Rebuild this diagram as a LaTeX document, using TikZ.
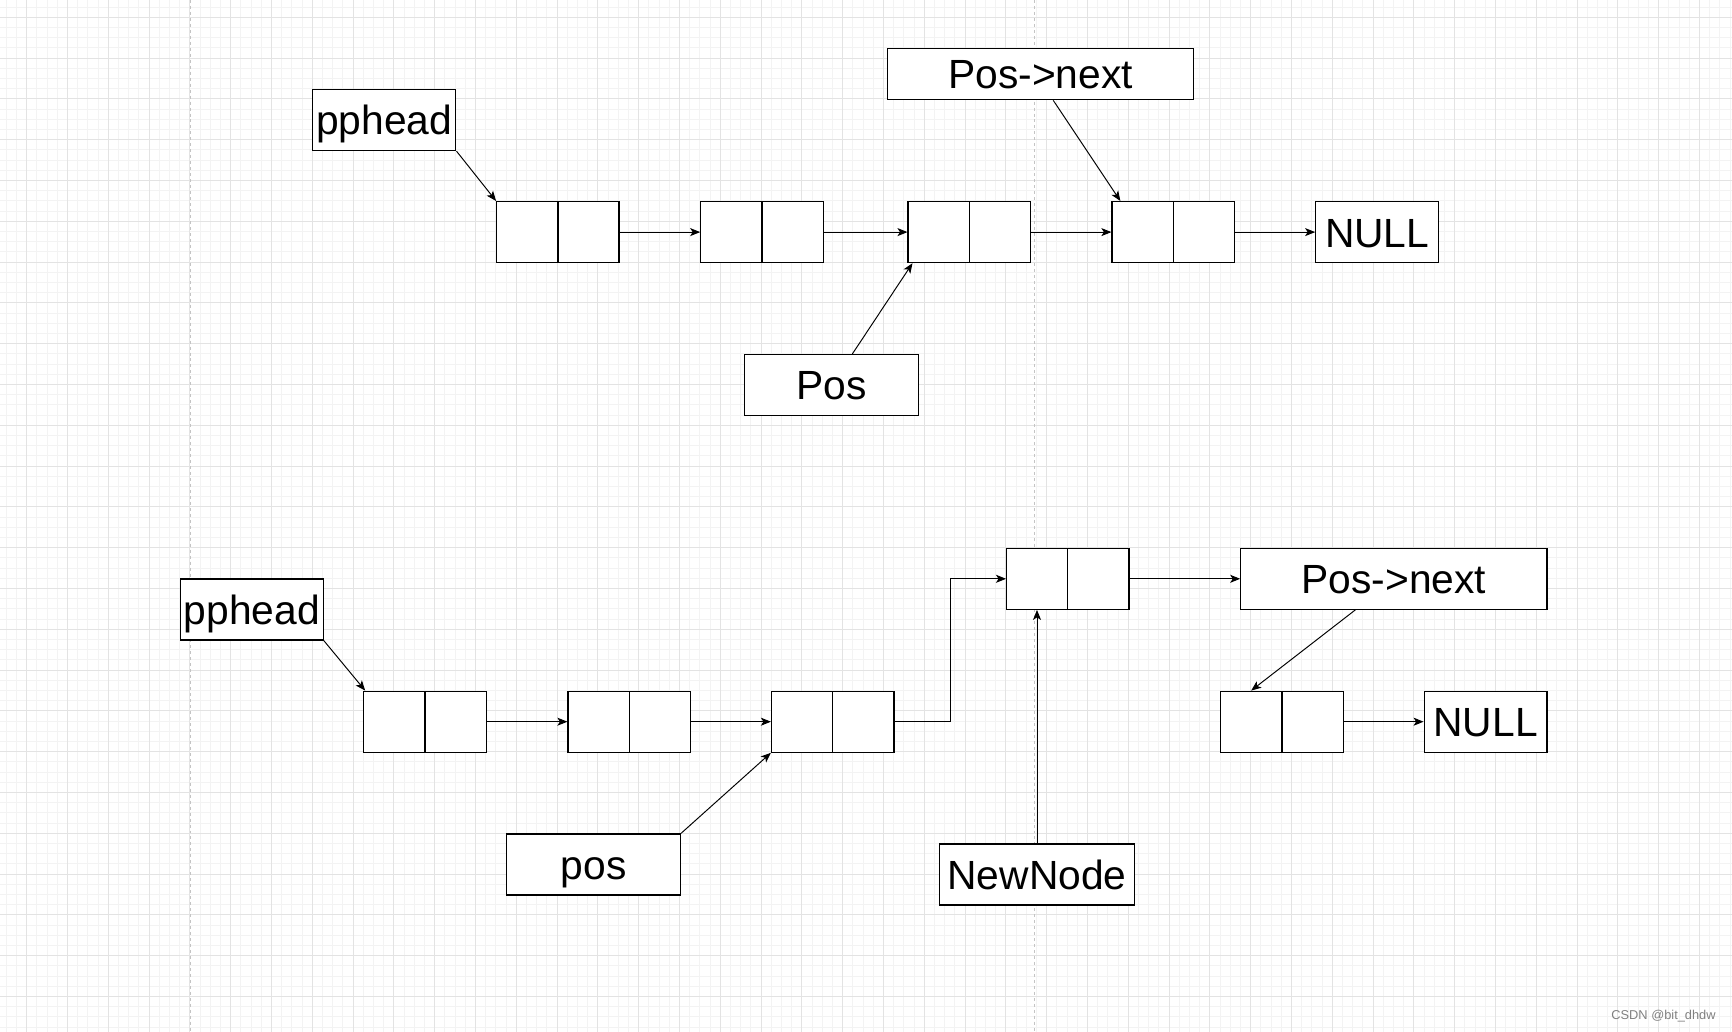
\documentclass[tikz,border=0pt]{standalone}
\usepackage{fontspec}
\setmainfont{Liberation Sans}
\usetikzlibrary{arrows.meta,calc}
\definecolor{gridminor}{HTML}{F3F3F3}
\definecolor{gridmajor}{HTML}{E3E3E3}
\definecolor{pageline}{HTML}{C4C4C4}
\begin{document}
\begin{tikzpicture}[x=0.2mm,y=-0.2mm,
    cell/.style={draw,line width=0.7pt,minimum width=24.48mm,minimum height=12.2mm,inner sep=0pt,
        path picture={\draw[line width=0.7pt] (path picture bounding box.north)--(path picture bounding box.south);}},
    lbl/.style={draw,line width=0.7pt,minimum height=12.2mm,inner sep=0pt,text height=7mm,text depth=1mm,
        font=\fontsize{23.2}{28}\selectfont},
    link/.style={-{Stealth[length=2mm,width=1.6mm,inset=0.5mm]},line width=0.55pt}]
    \useasboundingbox (0,0) rectangle (1732,1032);
    \fill[white] (0,0) rectangle (1732,1032);
    \foreach \i in {-2,...,167} \draw[gridminor,line width=0.5pt] (26.7+10.2*\i,0)--(26.7+10.2*\i,1032);
    \foreach \j in {-1,...,99} \draw[gridminor,line width=0.5pt] (0,17.3+10.2*\j)--(1732,17.3+10.2*\j);
    \foreach \i in {0,...,41} \draw[gridmajor,line width=0.5pt] (26.7+40.8*\i,0)--(26.7+40.8*\i,1032);
    \foreach \j in {0,...,24} \draw[gridmajor,line width=0.5pt] (0,17.3+40.8*\j)--(1732,17.3+40.8*\j);
    \draw[pageline,line width=0.6pt,dash pattern=on 1.7pt off 1.7pt] (190.7,0)--(190.7,1032);
    \draw[pageline,line width=0.6pt,dash pattern=on 1.7pt off 1.7pt] (1034.3,0)--(1034.3,1032);

    \node[cell,fill=white] (n1) at (557.9,232.1) {};
    \node[cell,fill=white] (n2) at (762,232.1) {};
    \node[cell,fill=white] (n3) at (969.3,232.1) {};
    \node[cell,fill=white] (n4) at (1173.2,232.1) {};
    \node[lbl,fill=white,minimum width=24.58mm] (null1) at (1377.2,232.1) {NULL};
    \node[lbl,fill=white,minimum width=28.62mm] (head1) at (384.3,120) {pphead};
    \node[lbl,fill=white,minimum width=61.24mm,minimum height=10.28mm] (next1) at (1040.6,74) {Pos->next};
    \node[lbl,fill=white,minimum width=34.72mm] (pos1) at (831.4,385) {Pos};
    \draw[link] (n1.east)--(n2.west);
    \draw[link] (n2.east)--(n3.west);
    \draw[link] (n3.east)--(n4.west);
    \draw[link] (n4.east)--(null1.west);
    \draw[link] (head1.south east)--(n1.north west);
    \draw[link] ($(pos1.north)+(21,0)$)--($(n3.south west)+(5,0)$);
    \draw[link] ($(next1.south)+(12.6,0)$)--($(n4.north west)+(9,0)$);

    \node[cell,fill=white] (b1) at (425,721.7) {};
    \node[cell,fill=white] (b2) at (629.2,721.7) {};
    \node[cell,fill=white] (b3) at (832.7,721.7) {};
    \node[cell,fill=white] (b4) at (1067.8,578.8) {};
    \node[cell,fill=white] (b5) at (1282,721.7) {};
    \node[lbl,fill=white,minimum width=24.56mm] (null2) at (1485.6,721.7) {NULL};
    \node[lbl,fill=white,minimum width=28.56mm] (head2) at (251.8,609.5) {pphead};
    \node[lbl,fill=white,minimum width=61.24mm] (next2) at (1393.9,578.8) {Pos->next};
    \node[lbl,fill=white,minimum width=34.72mm] (pos2) at (593.6,864.5) {pos};
    \node[lbl,fill=white,minimum width=38.86mm] (newn) at (1037,874.5) {NewNode};
    \draw[link] (b1.east)--(b2.west);
    \draw[link] (b2.east)--(b3.west);
    \draw[link] (b3.east)--++(56,0)|-(b4.west);
    \draw[link] (b4.east)--(next2.west);
    \draw[link] (b5.east)--(null2.west);
    \draw[link] (head2.south east)--($(b1.north west)+(2,0)$);
    \draw[link] (pos2.north east)--(b3.south west);
    \draw[link] ($(next2.south)+(-38.6,0)$)--($(b5.north west)+(31,0)$);
    \draw[link] (newn.north)--(newn.north|-b4.south);

    \node[font=\fontsize{7.3}{9}\selectfont,text=black!50,anchor=east,inner sep=0pt] (mark) at (1716,1016.5) {CSDN @bit\_dhdw};
\end{tikzpicture}
\end{document}
